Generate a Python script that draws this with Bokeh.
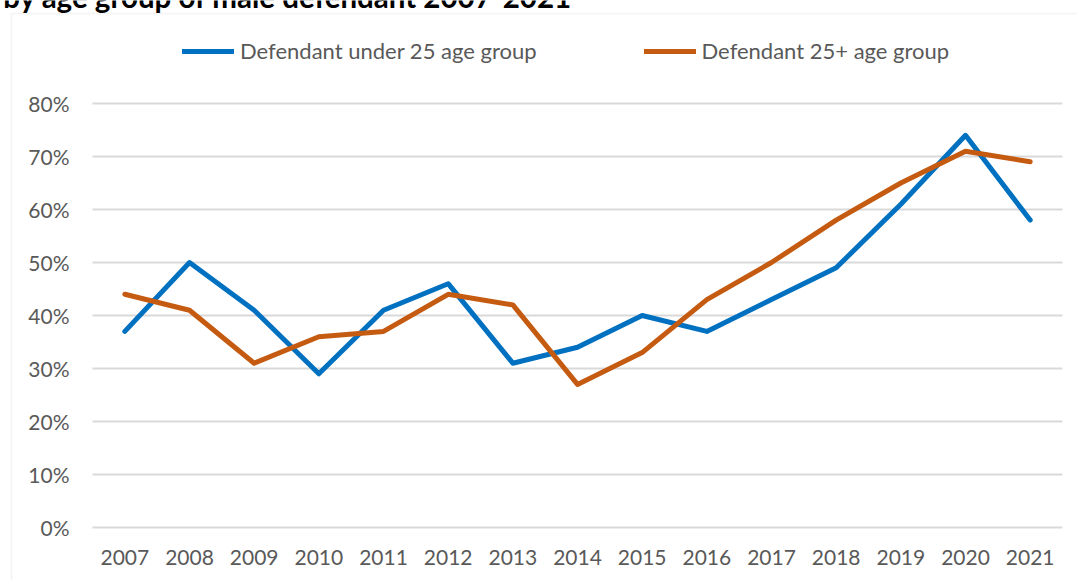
from bokeh.plotting import figure
from bokeh.models import Range1d, Legend, LegendItem, Label, BoxAnnotation
from bokeh.core.properties import value
from bokeh.embed import file_html
from bokeh.resources import INLINE

years = list(range(2007, 2022))
under25 = [0.37, 0.50, 0.41, 0.29, 0.41, 0.46, 0.31, 0.34, 0.40, 0.37, 0.43, 0.49, 0.61, 0.74, 0.58]
over25 = [0.44, 0.41, 0.31, 0.36, 0.37, 0.44, 0.42, 0.27, 0.33, 0.43, 0.50, 0.58, 0.65, 0.71, 0.69]
series_names = ["Defendant under 25 age group", "Defendant 25+ age group"]
y_ticks = [0, 0.1, 0.2, 0.3, 0.4, 0.5, 0.6, 0.7, 0.8]
year_labels = [str(y) for y in years]
y_labels = [f"{round(t * 100)}%" for t in y_ticks]
title_text = "by age group of male defendant 2007-2021"

FONT = "Lato"
TXT = "#595959"
GRID = "#d9d9d9"

W, H = 1077, 580
# plot area in canvas pixels
PL, PR, PT, PB = 92, 1062, 103, 527
step = (PR - PL) / len(years)
x0 = years[0] - 0.5 - PL / step
x1 = years[0] - 0.5 + (W - PL) / step
yscale = (PB - PT) / (y_ticks[-1] - y_ticks[0])
y0 = y_ticks[0] - (H - PB) / yscale
y1 = y_ticks[-1] + PT / yscale

p = figure(width=W, height=H, x_range=Range1d(x0, x1), y_range=Range1d(y0, y1),
           output_backend="svg", toolbar_location=None,
           min_border=0, min_border_left=0, min_border_right=0,
           min_border_top=0, min_border_bottom=0)
p.xaxis.visible = False
p.yaxis.visible = False
p.xgrid.visible = False
p.ygrid.visible = False
p.outline_line_color = None
p.background_fill_color = "white"
p.border_fill_color = "white"

# outer chart box
box = BoxAnnotation(left=11, right=W + 50, top=13, bottom=H + 50,
                    left_units="canvas", right_units="canvas", top_units="canvas", bottom_units="canvas",
                    fill_alpha=0, line_color=GRID, line_width=1.5, level="underlay")
p.add_layout(box)

# horizontal gridlines
gx0 = [years[0] - 0.5] * len(y_ticks)
gx1 = [years[-1] + 0.5] * len(y_ticks)
p.segment(x0=gx0, y0=y_ticks, x1=gx1, y1=y_ticks, line_color=GRID, line_width=2)

# tick labels
p.text(x=[years[0] - 0.5] * len(y_ticks), y=y_ticks, text=y_labels,
       x_offset=-23, text_align="right", text_baseline="middle",
       text_font=value(FONT), text_font_size="21px", text_color=TXT)
p.text(x=years, y=[y_ticks[0]] * len(years), text=year_labels,
       y_offset=30, text_align="center", text_baseline="middle",
       text_font=value(FONT), text_font_size="21px", text_color=TXT)

r1 = p.line(years, under25, line_color="#0070C0", line_width=5, line_join="round", line_cap="round")
r2 = p.line(years, over25, line_color="#C55A11", line_width=5, line_join="round", line_cap="round")

legend = Legend(items=[LegendItem(label=series_names[0], renderers=[r1]),
                       LegendItem(label=series_names[1], renderers=[r2])],
                location=(182, H - 64), orientation="horizontal",
                glyph_width=52, glyph_height=20, label_height=20, label_standoff=6,
                spacing=107, padding=0, margin=0,
                border_line_alpha=0, background_fill_alpha=0,
                label_text_font=FONT, label_text_font_size="22px", label_text_color=TXT)
p.add_layout(legend, "center")

title = Label(x=572, y=-4, x_units="canvas", y_units="canvas", text=title_text,
              text_font=FONT, text_font_style="bold", text_font_size="29.5px",
              text_color="black", text_align="right", text_baseline="alphabetic")
p.add_layout(title)

open("out.html", "w").write(file_html(p, INLINE))
